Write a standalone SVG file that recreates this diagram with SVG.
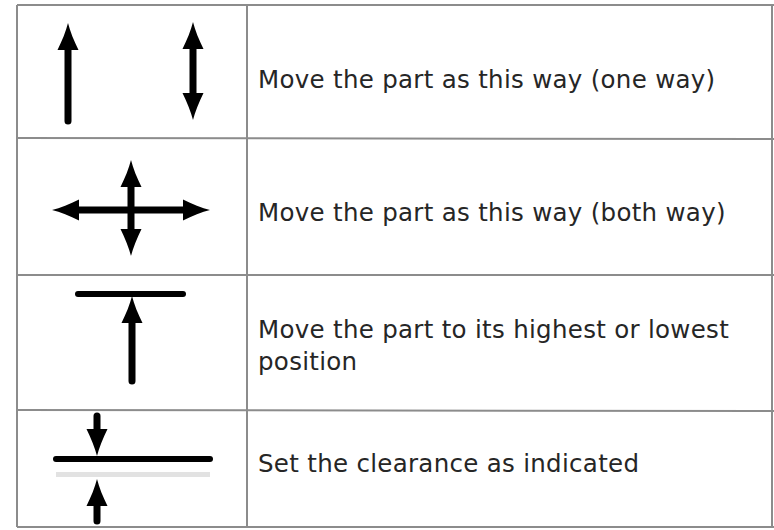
<svg xmlns="http://www.w3.org/2000/svg" xmlns:xlink="http://www.w3.org/1999/xlink" width="774" height="530" viewBox="0 0 774 530">
<style>
.grid{stroke:#8c8c8c;stroke-width:2;fill:none}
.shaft{stroke:#000;stroke-width:7;stroke-linecap:round;fill:none}
.bar{stroke:#000;stroke-width:6;stroke-linecap:round;fill:none}
.lbl{font-family:"DejaVu Sans","Liberation Sans",sans-serif;font-size:24.5px;letter-spacing:0.3px;fill:#262626}
</style>
<defs>
<path id="head" d="M0 0 C2 8 6 18 10.5 27 L-10.5 27 C-6 18 -2 8 0 0Z" fill="#000"/>
</defs>
<rect width="774" height="530" fill="#fff"/>
<g id="grid">
<line class="grid" x1="17" y1="5" x2="774" y2="5" stroke="#666"/>
<line class="grid" x1="17" y1="138" x2="774" y2="139"/>
<line class="grid" x1="17" y1="275" x2="774" y2="275"/>
<line class="grid" x1="17" y1="410" x2="774" y2="411"/>
<line class="grid" x1="17" y1="527" x2="774" y2="527" stroke="#bbb"/>
<line class="grid" x1="17" y1="5" x2="17" y2="527"/>
<line class="grid" x1="247" y1="5" x2="247" y2="527"/>
<line class="grid" x1="772" y1="5" x2="772" y2="527" stroke="#f2f2f2"/>
</g>
<g id="row1">
<line class="shaft" x1="68" y1="45" x2="68" y2="121"/>
<use href="#head" transform="translate(68,23)"/>
<line class="shaft" x1="193" y1="45" x2="193" y2="98"/>
<use href="#head" transform="translate(193,22)"/>
<use href="#head" transform="translate(193,120) rotate(180)"/>
<text class="lbl" x="258" y="88">Move the part as this way (one way)</text>
</g>
<g id="row2">
<line class="shaft" x1="131" y1="182" x2="131" y2="235"/>
<line class="shaft" x1="75" y1="210" x2="187" y2="210"/>
<use href="#head" transform="translate(131,160)"/>
<use href="#head" transform="translate(131,256) rotate(180)"/>
<use href="#head" transform="translate(52,210) rotate(-90)"/>
<use href="#head" transform="translate(210,210) rotate(90)"/>
<text class="lbl" x="258" y="221">Move the part as this way (both way)</text>
</g>
<g id="row3">
<line class="bar" x1="78" y1="294" x2="183" y2="294"/>
<line class="shaft" x1="132" y1="318" x2="132" y2="381"/>
<use href="#head" transform="translate(132,296)"/>
<text class="lbl" x="258" y="338">Move the part to its highest or lowest</text>
<text class="lbl" x="258" y="370">position</text>
</g>
<g id="row4">
<line class="shaft" x1="97" y1="416" x2="97" y2="435"/>
<use href="#head" transform="translate(97,456) rotate(180)"/>
<line class="bar" x1="56" y1="459" x2="210" y2="459"/>
<rect x="56" y="472" width="154" height="5" fill="#e2e2e2"/>
<use href="#head" transform="translate(97,479)"/>
<line class="shaft" x1="97" y1="500" x2="97" y2="521"/>
<text class="lbl" x="258" y="472">Set the clearance as indicated</text>
</g>
</svg>
